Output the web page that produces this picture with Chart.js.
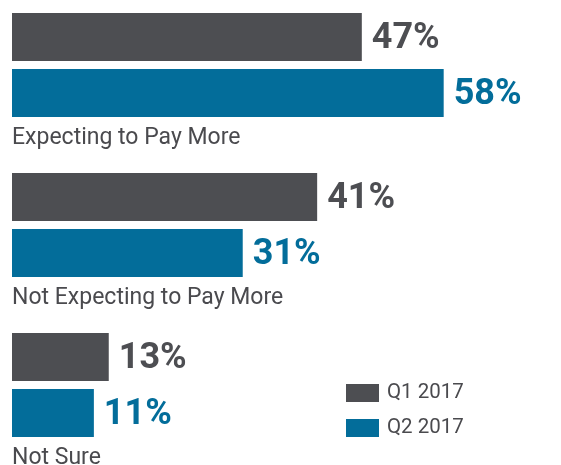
<!DOCTYPE html>
<html>
<head>
<meta charset="utf-8">
<script src="https://cdn.jsdelivr.net/npm/chart.js@4"></script>
<style>
  html, body { margin: 0; padding: 0; background: #fff; }
  #wrap { width: 561px; height: 465px; position: relative; }
</style>
</head>
<body>
<div id="wrap"><canvas id="grafico"></canvas></div>
<script>
const categorias = ['Expecting to Pay More', 'Not Expecting to Pay More', 'Not Sure'];
const series = ['Q1 2017', 'Q2 2017'];
const q1 = [47, 41, 13];
const q2 = [58, 31, 11];

const cinza = '#4d4e52';
const azul = '#036d9a';
const fonte = 'Roboto, "Liberation Sans", sans-serif';

// rótulos de valor, categorias e legenda desenhados à mão
const rotulos = {
  id: 'rotulos',
  afterDatasetsDraw(chart) {
    const ctx = chart.ctx;
    ctx.save();

    chart.data.datasets.forEach((ds, i) => {
      const meta = chart.getDatasetMeta(i);
      ctx.fillStyle = ds.backgroundColor;
      ctx.font = 'bold 36px ' + fonte;
      ctx.textAlign = 'left';
      ctx.textBaseline = 'middle';
      meta.data.forEach((bar, j) => {
        ctx.fillText(ds.data[j] + '%', bar.x + 10, bar.y + 2);
      });
    });

    const yScale = chart.scales.y;
    ctx.fillStyle = '#4a4a4e';
    ctx.font = '23px ' + fonte;
    ctx.textBaseline = 'alphabetic';
    chart.data.labels.forEach((lab, j) => {
      ctx.fillText(lab, 12, yScale.getPixelForValue(j) + 79);
    });

    // legenda
    ctx.font = '20.5px ' + fonte;
    ctx.textBaseline = 'middle';
    chart.data.datasets.forEach((ds, i) => {
      const y = 384 + i * 35;
      ctx.fillStyle = ds.backgroundColor;
      ctx.fillRect(346, y, 33, 18);
      ctx.fillStyle = '#4a4a4e';
      ctx.fillText(ds.label, 387, y + 9);
    });

    ctx.restore();
  }
};

const ctx = document.getElementById('grafico').getContext('2d');
new Chart(ctx, {
  type: 'bar',
  data: {
    labels: categorias,
    datasets: [
      { label: series[0], data: q1, backgroundColor: cinza, clip: false },
      { label: series[1], data: q2, backgroundColor: azul, clip: false }
    ]
  },
  options: {
    indexAxis: 'y',
    responsive: true,
    maintainAspectRatio: false,
    animation: false,
    categoryPercentage: 0.7,
    barPercentage: 48 / 56,
    layout: { padding: { left: 12, right: 28, top: 65, bottom: 80 } },
    scales: {
      x: { display: false, min: 0, max: 70 },
      y: { display: false, offset: false }
    },
    plugins: {
      legend: { display: false },
      tooltip: { enabled: false }
    }
  },
  plugins: [rotulos]
});
</script>
</body>
</html>
